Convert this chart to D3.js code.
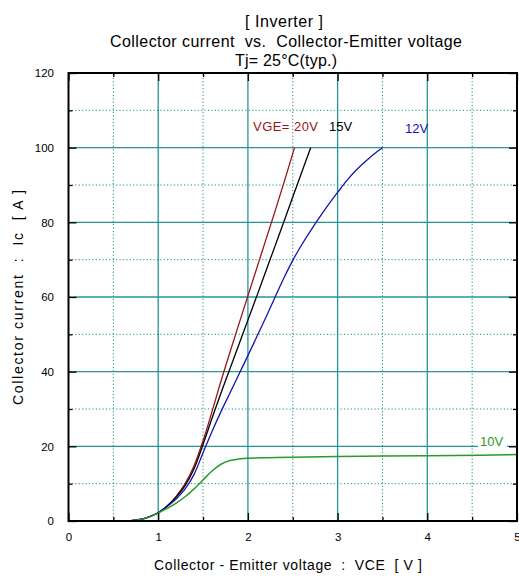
<!DOCTYPE html>
<html><head><meta charset="utf-8">
<script src="https://cdn.jsdelivr.net/npm/d3@7"></script>
<style>
html,body{margin:0;padding:0;background:#fff;}
svg{display:block;font-family:"Liberation Sans",Arial,sans-serif;}
text{white-space:pre;}
</style></head>
<body>
<svg id="c" width="519" height="577"></svg>
<script>
// ---- data ----
const titleLines = ["[ Inverter ]", "Collector current  vs.  Collector-Emitter voltage", "Tj= 25°C(typ.)"];
const xLabel = "Collector - Emitter voltage  :  VCE  [ V ]";
const yLabel = "Collector current  :  Ic  [ A ]";
const xTicksMajor = [0, 1, 2, 3, 4, 5];
const xTicksMinor = [0.5, 1.5, 2.5, 3.5, 4.5];
const yTicksMajor = [0, 20, 40, 60, 80, 100, 120];
const yTicksMinor = [10, 30, 50, 70, 90, 110];

const vge20V = [0.68,0.8,0.9,1.0,1.1,1.2,1.3,1.4,1.5,1.6,1.7,1.8,1.9,2.0,2.1,2.2,2.3,2.4,2.52];
const vge20I = [0,0.4,1.1,2.2,4.0,6.6,10.0,14.8,21.5,29.3,37.5,45.2,52.8,60.3,67.8,75.3,82.8,90.5,100];

const vge15V = [0.68,0.8,0.9,1.0,1.1,1.2,1.3,1.4,1.5,1.6,1.7,1.8,1.9,2.0,2.1,2.2,2.3,2.4,2.5,2.6,2.7];
const vge15I = [0,0.4,1.1,2.2,4.0,6.4,9.5,14.0,20.5,27.5,34.3,40.8,47.3,53.8,60.3,66.9,73.5,80.1,86.8,93.4,100];

const vge12V = [0.68,0.8,0.9,1.0,1.1,1.2,1.3,1.4,1.5,1.6,1.7,1.8,1.9,2.0,2.1,2.2,2.3,2.4,2.5,2.6,2.7,2.8,2.9,3.0,3.1,3.2,3.3,3.4,3.5];
const vge12I = [0,0.4,1.1,2.2,3.9,5.9,8.6,12.5,18.3,24.0,29.3,34.3,39.3,44.3,49.4,54.5,59.8,65.0,69.8,74.0,77.8,81.4,84.8,88.0,91.1,93.8,96.1,98.2,100];

const vge10V = [0.68,0.8,0.9,1.0,1.1,1.2,1.3,1.4,1.5,1.6,1.7,1.8,1.9,2.0,2.24,2.5,3.0,4.0,4.6,5.0];
const vge10I = [0,0.4,1.1,2.1,3.4,4.8,6.5,8.6,11.0,13.4,15.2,16.2,16.6,16.8,16.95,17.1,17.3,17.5,17.6,17.8];

const seriesNames = ["20V", "15V", "12V", "10V"];
const seriesColors = ["#9a1414", "#000000", "#1414b0", "#2a9a2a"];

// ---- chart ----
const svg = d3.select("#c");
const x = d3.scaleLinear().domain([0, 5]).range([68.5, 517]);
const y = d3.scaleLinear().domain([0, 120]).range([521, 73]);

// title
const titleX = [284, 286, 286];
const titleW = [78, 352, 102];
svg.append("g").selectAll("text").data(titleLines).join("text")
  .attr("x", (d, i) => titleX[i]).attr("y", (d, i) => 27 + i * 19.5)
  .attr("text-anchor", "middle").attr("font-size", 16).attr("fill", "#000")
  .attr("textLength", (d, i) => titleW[i]).attr("lengthAdjust", "spacing")
  .text(d => d);

// grid
const grid = svg.append("g");
grid.selectAll(".gxm").data(xTicksMinor).join("line")
  .attr("x1", d => x(d)).attr("x2", d => x(d)).attr("y1", y(0)).attr("y2", y(120))
  .attr("stroke", "#1a8c8c").attr("stroke-width", 1).attr("stroke-dasharray", "1.2,2.2");
grid.selectAll(".gym").data(yTicksMinor).join("line")
  .attr("y1", d => y(d)).attr("y2", d => y(d)).attr("x1", x(0)).attr("x2", x(5))
  .attr("stroke", "#1a8c8c").attr("stroke-width", 1).attr("stroke-dasharray", "1.2,2.2");
grid.selectAll(".gxM").data(xTicksMajor.slice(1, -1)).join("line")
  .attr("x1", d => x(d)).attr("x2", d => x(d)).attr("y1", y(0)).attr("y2", y(120))
  .attr("stroke", "#2a9494").attr("stroke-width", 1.3);
grid.selectAll(".gyM").data(yTicksMajor.slice(1, -1)).join("line")
  .attr("y1", d => y(d)).attr("y2", d => y(d)).attr("x1", x(0)).attr("x2", x(5))
  .attr("stroke", "#2a9494").attr("stroke-width", 1.3);

// curves
const allV = [vge20V, vge15V, vge12V, vge10V];
const allI = [vge20I, vge15I, vge12I, vge10I];
const line = d3.line().x(d => x(d[0])).y(d => y(d[1])).curve(d3.curveCatmullRom.alpha(0.5));
allV.forEach((vs, k) => {
  const pts = vs.map((v, i) => [v, allI[k][i]]);
  svg.append("path").datum(pts).attr("d", line)
    .attr("fill", "none").attr("stroke", seriesColors[k])
    .attr("stroke-width", k === 3 ? 1.5 : 1.3);
});

// curve labels
const lbl = svg.append("g").attr("font-size", 13);
lbl.append("text").attr("x", 253).attr("y", 131).attr("fill", seriesColors[0])
  .attr("textLength", 65).attr("lengthAdjust", "spacing").text("VGE= " + seriesNames[0]);
lbl.append("text").attr("x", 329).attr("y", 131).attr("fill", seriesColors[1]).text(seriesNames[1]);
lbl.append("text").attr("x", 405).attr("y", 133).attr("fill", seriesColors[2]).text(seriesNames[2]);
lbl.append("rect").attr("x", 478).attr("y", y(20) - 3).attr("width", 29).attr("height", 6).attr("fill", "#fff");
lbl.append("text").attr("x", 480).attr("y", 446).attr("fill", seriesColors[3]).text(seriesNames[3]);

// axes (ticks inward)
function styleAxis(g) {
  g.select(".domain").remove();
  g.selectAll(".tick line").attr("stroke", "#000").attr("stroke-width", 1.3);
  g.selectAll("text").attr("font-size", 11.5).attr("fill", "#000").attr("font-family", "Liberation Sans, Arial, sans-serif");
}
svg.append("g").attr("transform", `translate(0,${y(0)})`)
  .call(d3.axisBottom(x).tickValues(xTicksMajor).tickSize(-8).tickPadding(11.5).tickFormat(d3.format("d"))).call(styleAxis);
svg.append("g").attr("transform", `translate(0,${y(0)})`)
  .call(d3.axisBottom(x).tickValues(xTicksMinor).tickSize(-4).tickFormat("")).call(styleAxis);
svg.append("g").attr("transform", `translate(0,${y(120)})`)
  .call(d3.axisTop(x).tickValues(xTicksMajor).tickSize(-8).tickFormat("")).call(styleAxis);
svg.append("g").attr("transform", `translate(0,${y(120)})`)
  .call(d3.axisTop(x).tickValues(xTicksMinor).tickSize(-4).tickFormat("")).call(styleAxis);
svg.append("g").attr("transform", `translate(${x(0)},0)`)
  .call(d3.axisLeft(y).tickValues(yTicksMajor).tickSize(-8).tickPadding(14.5).tickFormat(d3.format("d"))).call(styleAxis);
svg.append("g").attr("transform", `translate(${x(0)},0)`)
  .call(d3.axisLeft(y).tickValues(yTicksMinor).tickSize(-4).tickFormat("")).call(styleAxis);
svg.append("g").attr("transform", `translate(${x(5)},0)`)
  .call(d3.axisRight(y).tickValues(yTicksMajor).tickSize(-8).tickFormat("")).call(styleAxis);
svg.append("g").attr("transform", `translate(${x(5)},0)`)
  .call(d3.axisRight(y).tickValues(yTicksMinor).tickSize(-4).tickFormat("")).call(styleAxis);

// frame
svg.append("rect").attr("x", x(0)).attr("y", y(120)).attr("width", x(5) - x(0)).attr("height", y(0) - y(120))
  .attr("fill", "none").attr("stroke", "#000").attr("stroke-width", 2);

// axis titles
svg.append("text").attr("x", 288).attr("y", 570).attr("text-anchor", "middle")
  .attr("font-size", 14).attr("textLength", 268).attr("lengthAdjust", "spacing").text(xLabel);
svg.append("text").attr("transform", "translate(22.5,297.5) rotate(-90)").attr("text-anchor", "middle")
  .attr("font-size", 14).attr("textLength", 215).attr("lengthAdjust", "spacing").text(yLabel);
</script>
</body></html>
